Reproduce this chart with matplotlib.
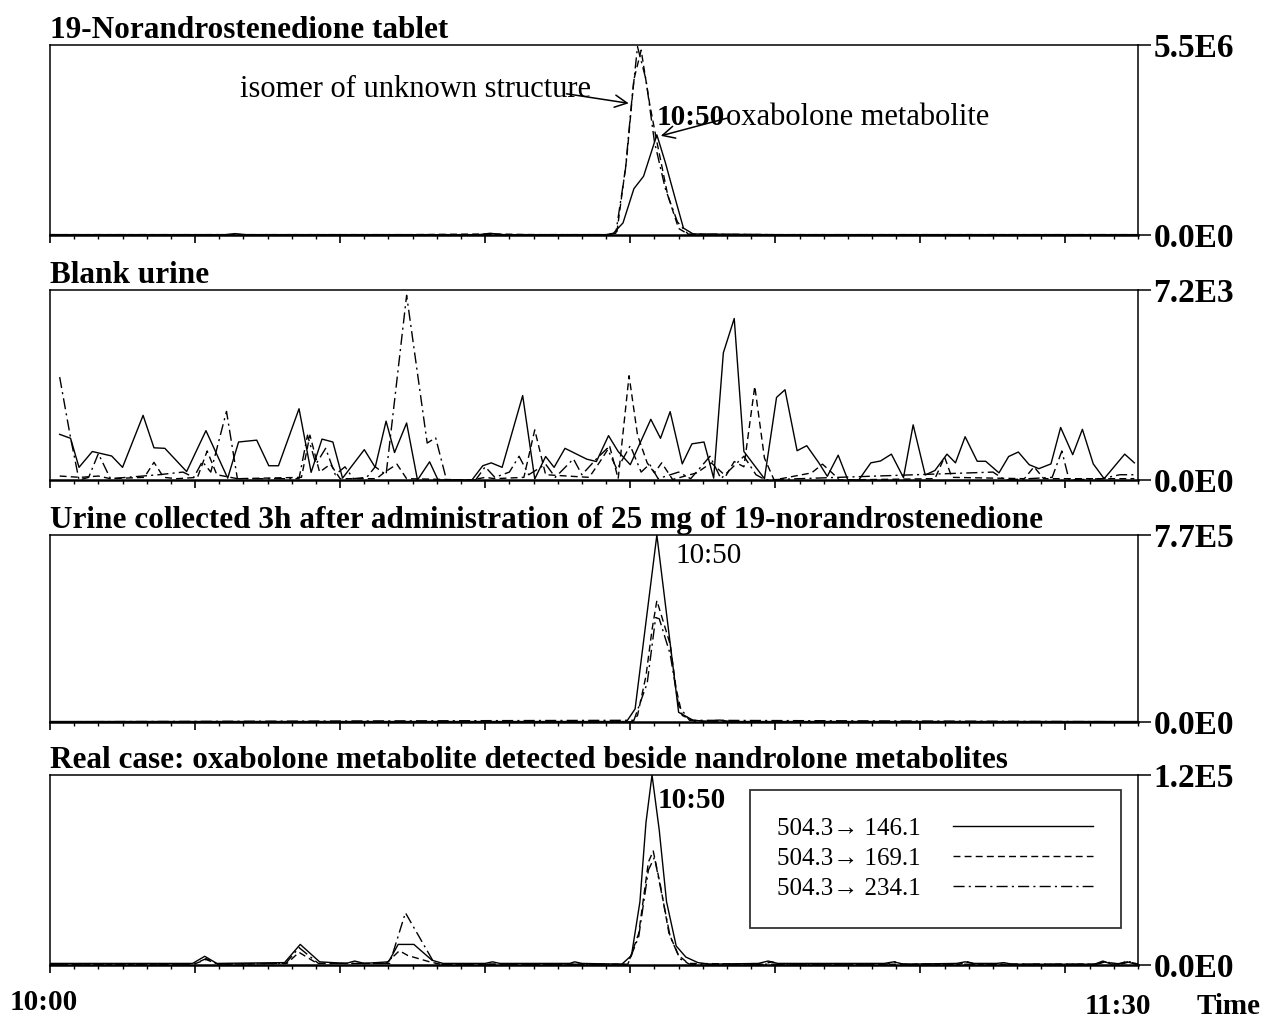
import matplotlib
matplotlib.use("Agg")
import matplotlib.pyplot as plt
from matplotlib.ticker import MultipleLocator

plt.rcParams["font.family"] = ["Liberation Serif", "DejaVu Serif"]

# time axis: minutes after 10:00 (10:00 -> 0, 11:30 -> 90)

# panel 1: 19-norandrostenedione tablet (intensity in 1E6)
tab_solid_t = [0, 10, 14.5, 15.3, 16.2, 25, 35.5, 36.4, 37.5, 46.0, 46.6, 47.4, 48.3, 49.1, 50.2, 50.9, 51.8, 52.4, 53.2, 60, 75, 90]
tab_solid_y = [0.01, 0.01, 0.01, 0.04, 0.01, 0.01, 0.01, 0.05, 0.01, 0.01, 0.05, 0.35, 1.34, 1.7, 2.9, 2.1, 0.95, 0.2, 0.03, 0.01, 0.01, 0.01]
tab_dash_t = [0, 30, 36.4, 40, 46.3, 46.9, 47.7, 48.3, 48.9, 49.6, 50.2, 51.1, 52.0, 52.8, 60, 90]
tab_dash_y = [0.01, 0.01, 0.03, 0.01, 0.01, 0.1, 2.2, 4.5, 5.35, 3.8, 2.7, 1.15, 0.19, 0.02, 0.01, 0.01]
tab_dd_t = [0, 30, 46.2, 46.8, 47.6, 48.1, 48.6, 49.3, 50.0, 50.9, 51.9, 52.8, 60, 90]
tab_dd_y = [0.01, 0.01, 0.01, 0.05, 1.9, 3.8, 5.45, 4.5, 2.7, 1.34, 0.38, 0.02, 0.01, 0.01]

# panel 2: blank urine (intensity in 1E3)
bl_solid_t = [0.8, 1.7, 2.4, 3.5, 5.1, 6.0, 7.7, 8.6, 9.5, 11.3, 12.9, 14.7, 15.6, 17.1, 18.1, 18.9, 20.6, 21.6,
              22.5, 23.4, 24.2, 26.0, 26.9, 27.8, 28.5, 29.5, 30.4, 31.4, 32.1, 34.9, 35.8, 36.5, 37.4, 39.1,
              40.1, 41.0, 41.7, 42.6, 44.4, 45.2, 46.2, 47.0, 48.0, 49.7, 50.5, 51.3, 52.3, 53.1, 54.1, 54.9,
              55.7, 56.6, 57.4, 59.1, 60.1, 60.8, 61.8, 62.6, 63.6, 64.3, 65.2, 66.0, 66.9, 67.9, 68.7, 69.6,
              70.6, 71.4, 72.4, 73.2, 74.2, 74.9, 75.7, 76.7, 77.4, 78.5, 79.3, 80.1, 81.0, 81.8, 82.8, 83.6,
              84.6, 85.4, 86.3, 87.2, 88.9, 89.7]
bl_solid_y = [1.73, 1.58, 0.48, 1.08, 0.91, 0.48, 2.45, 1.22, 1.2, 0.32, 1.87, 0.07, 1.44, 1.51, 0.54, 0.54, 2.7, 0.29,
              1.55, 1.44, 0.07, 1.15, 0.48, 2.23, 1.04, 2.16, 0.0, 0.69, 0.0, 0.0, 0.54, 0.65, 0.48, 3.2,
              0.04, 0.89, 0.48, 1.2, 0.79, 0.7, 1.68, 1.08, 0.58, 2.3, 1.58, 2.59, 0.61, 1.37, 1.44, 0.07,
              4.82, 6.12, 1.08, 0.05, 3.13, 3.42, 1.11, 1.3, 0.65, 0.14, 0.94, 0.0, 0.0, 0.65, 0.72, 0.98,
              0.09, 2.09, 0.19, 0.36, 0.98, 0.65, 1.64, 0.71, 0.71, 0.27, 0.89, 1.06, 0.58, 0.43, 0.61, 1.99,
              0.96, 1.92, 0.61, 0.05, 0.98, 0.65]
bl_dash_t = [0.8, 2.5, 4.0, 5.0, 7.8, 8.6, 9.4, 10.5, 12.2, 13.0, 13.8, 15.5, 20.8, 21.5, 22.3, 23.2, 24.0, 27.0,
             27.7, 28.7, 29.5, 34.9, 36.0, 36.8, 39.2, 40.1, 41.0, 44.6, 45.5, 46.3, 47.0, 47.9, 48.6, 49.4,
             50.0, 50.6, 51.5, 53.5, 54.7, 55.9, 56.6, 57.4, 58.3, 59.1, 59.9, 63.0, 63.9, 64.7, 65.3, 73.2,
             74.0, 74.6, 80.6, 81.4, 82.2, 89.7]
bl_dash_y = [0.15, 0.1, 0.15, 0.05, 0.1, 0.67, 0.1, 0.05, 0.1, 1.1, 0.2, 0.05, 0.1, 1.7, 0.3, 0.6, 0.05, 0.05,
             0.3, 0.6, 0.05, 0.0, 0.1, 0.05, 0.1, 1.9, 0.2, 0.1, 0.7, 1.27, 0.05, 3.95, 1.7, 0.65,
             0.27, 0.65, 0.02, 0.27, 0.65, 0.15, 0.7, 0.5, 3.55, 0.83, 0.0, 0.27, 0.6, 0.27, 0.0, 0.05,
             0.87, 0.1, 0.05, 0.5, 0.05, 0.05]
bl_dd_t = [0.8, 1.7, 2.4, 3.2, 4.0, 5.0, 9.0, 11.0, 11.9, 12.6, 13.3, 14.6, 15.5, 20.6, 21.3, 22.0, 22.8, 23.6,
           24.4, 25.1, 26.2, 26.9, 27.8, 29.5, 31.2, 31.9, 32.8, 35.2, 36.0, 36.8, 38.0, 38.8, 39.6, 41.0,
           41.8, 43.3, 44.0, 45.2, 46.1, 46.9, 48.0, 48.9, 49.6, 50.3, 52.0, 53.0, 54.6, 55.5, 57.4, 58.4,
           59.2, 62.0, 78.0, 79.0, 82.9, 83.7, 84.3, 87.0, 88.5, 89.7]
bl_dd_y = [3.9, 1.6, 0.0, 0.1, 1.0, 0.05, 0.2, 0.3, 0.1, 0.7, 0.3, 2.6, 0.05, 0.05, 1.7, 0.6, 1.2, 0.2,
           0.5, 0.05, 0.1, 0.5, 0.2, 7.0, 1.4, 1.6, 0.0, 0.0, 0.5, 0.1, 0.3, 0.9, 0.2, 0.6,
           0.1, 0.8, 0.2, 0.8, 1.2, 0.4, 1.3, 0.3, 0.6, 0.05, 0.3, 0.05, 0.9, 0.05, 0.9, 0.2,
           0.0, 0.05, 0.3, 0.0, 0.1, 1.1, 0.0, 0.05, 0.2, 0.2]

# panel 3: urine 3h after 25 mg (intensity in 1E5)
ur_solid_t = [0, 20, 40, 47.7, 48.4, 50.2, 52.0, 53.2, 54.5, 55.4, 56.3, 70, 90]
ur_solid_y = [0.02, 0.02, 0.02, 0.02, 0.54, 7.7, 0.4, 0.07, 0.03, 0.08, 0.02, 0.02, 0.02]
ur_dash_t = [0, 48.2, 48.6, 49.3, 49.8, 50.2, 51.3, 51.8, 52.3, 53.4, 90]
ur_dash_y = [0.01, 0.01, 0.27, 1.9, 3.8, 5.0, 3.2, 1.35, 0.27, 0.01, 0.01]
ur_dd_t = [0, 48.3, 49.4, 50.1, 50.4, 51.3, 52.0, 52.9, 90]
ur_dd_y = [0.01, 0.07, 1.6, 4.3, 4.25, 2.8, 0.67, 0.07, 0.01]

# panel 4: real case (intensity in 1E4)
rc_solid_t = [0, 5, 11.8, 12.8, 13.8, 19.4, 20.7, 22.3, 24.5, 25.2, 26.0, 28.0, 28.8, 30.1, 31.6, 32.5, 36.0,
              36.6, 37.2, 43.0, 43.4, 44.0, 47.3, 48.1, 48.8, 49.3, 49.8, 50.4, 51.0, 51.8, 52.6, 53.6, 54.5,
              58.6, 59.4, 60.2, 69.0, 69.8, 70.6, 75.0, 75.7, 76.4, 78.3, 78.9, 79.6, 86.4, 87.1, 87.8, 88.5,
              89.1, 89.8]
rc_solid_y = [0.1, 0.1, 0.1, 0.55, 0.1, 0.15, 1.3, 0.2, 0.1, 0.25, 0.1, 0.2, 1.3, 1.3, 0.3, 0.1, 0.1,
              0.2, 0.1, 0.1, 0.2, 0.1, 0.05, 0.6, 4.0, 9.0, 12.0, 8.5, 4.0, 1.2, 0.5, 0.15, 0.05,
              0.1, 0.25, 0.1, 0.1, 0.2, 0.05, 0.1, 0.2, 0.1, 0.1, 0.15, 0.05, 0.05, 0.25, 0.05, 0.1,
              0.2, 0.05]
rc_dash_t = [0, 11.9, 12.9, 13.9, 19.6, 20.6, 22.1, 27.8, 28.9, 29.6, 31.4, 32.3, 47.8, 48.7, 49.5, 49.9,
             50.5, 51.2, 52.0, 52.8, 59.0, 59.7, 60.4, 75.2, 75.9, 76.6, 86.5, 87.2, 88.6, 89.3, 90]
rc_dash_y = [0.05, 0.05, 0.35, 0.05, 0.1, 0.8, 0.1, 0.1, 0.9, 0.6, 0.2, 0.05, 0.05, 2.0, 6.5, 7.2,
             5.0, 2.0, 0.6, 0.1, 0.05, 0.2, 0.05, 0.05, 0.2, 0.05, 0.05, 0.2, 0.05, 0.2, 0.05]
rc_dd_t = [0, 11.9, 12.9, 13.9, 19.5, 20.6, 22.2, 28.1, 29.4, 31.8, 32.5, 47.8, 48.7, 49.5, 50.0, 50.6,
           51.3, 52.1, 52.9, 69.2, 69.9, 70.5, 86.6, 87.3, 88.4, 89.1, 90]
rc_dd_y = [0.05, 0.05, 0.4, 0.05, 0.1, 1.1, 0.1, 0.1, 3.3, 0.1, 0.05, 0.05, 1.8, 6.0, 6.8, 4.5,
           1.8, 0.4, 0.05, 0.05, 0.2, 0.05, 0.05, 0.2, 0.05, 0.25, 0.05]

titles = ["19-Norandrostenedione tablet",
          "Blank urine",
          "Urine collected 3h after administration of 25 mg of 19-norandrostenedione",
          "Real case: oxabolone metabolite detected beside nandrolone metabolites"]
ymaxes = [5.5, 7.2, 7.7, 12.0]
top_labels = ["5.5E6", "7.2E3", "7.7E5", "1.2E5"]
legend_labels = ["504.3\u2192 146.1", "504.3\u2192 169.1", "504.3\u2192 234.1"]

panels = [
    (tab_solid_t, tab_solid_y, tab_dash_t, tab_dash_y, tab_dd_t, tab_dd_y),
    (bl_solid_t, bl_solid_y, bl_dash_t, bl_dash_y, bl_dd_t, bl_dd_y),
    (ur_solid_t, ur_solid_y, ur_dash_t, ur_dash_y, ur_dd_t, ur_dd_y),
    (rc_solid_t, rc_solid_y, rc_dash_t, rc_dash_y, rc_dd_t, rc_dd_y),
]

W, H = 1262, 1022
fig = plt.figure(figsize=(W / 100, H / 100), dpi=100)

# axes boxes in pixels: (top, bottom)
boxes = [(45, 235), (290, 480), (535, 722), (775, 965)]
x_left, x_right = 50, 1138

dash_style = (0, (5, 3))
dd_style = (0, (8, 3, 1.5, 3))

axes = []
for i, (top, bot) in enumerate(boxes):
    ax = fig.add_axes([x_left / W, 1 - bot / H, (x_right - x_left) / W, (bot - top) / H])
    st, sy, dt, dy, ddt, ddy = panels[i]
    l1, = ax.plot(st, sy, color="black", lw=1.0, ls="-")
    l2, = ax.plot(dt, dy, color="black", lw=1.0, ls=dash_style)
    l3, = ax.plot(ddt, ddy, color="black", lw=1.0, ls=dd_style)
    ax.set_xlim(0, 90)
    ax.set_ylim(0, ymaxes[i])
    for side in ["left", "top", "right"]:
        ax.spines[side].set_linewidth(1.1)
    ax.spines["bottom"].set_linewidth(1.8)
    ax.xaxis.set_major_locator(MultipleLocator(12))
    ax.xaxis.set_minor_locator(MultipleLocator(2))
    ax.tick_params(axis="x", which="major", direction="out", length=6, width=1.2, labelbottom=False)
    ax.tick_params(axis="x", which="minor", direction="out", length=3, width=1.0)
    ax.yaxis.tick_right()
    ax.set_yticks([0, ymaxes[i]])
    ax.set_yticklabels(["0.0E0", top_labels[i]])
    ax.tick_params(axis="y", direction="out", length=9, width=1.1, pad=2, labelsize=24)
    for lab in ax.get_yticklabels():
        lab.set_fontweight("bold")
    ax.annotate(titles[i], xy=(0, 1), xycoords="axes fraction", xytext=(0, 5),
                textcoords="offset points", va="baseline", ha="left",
                fontsize=22.5, fontweight="bold")
    axes.append(ax)

# annotations, panel 1
ax = axes[0]
ax.text(15.7, 4.22, "isomer of unknown structure", fontsize=22, va="center", ha="left")
ax.annotate("", xy=(48.1, 3.8), xytext=(42.5, 4.1),
            arrowprops=dict(arrowstyle="->", lw=1.1, color="black", mutation_scale=22))
ax.text(50.2, 3.39, "10:50", fontsize=21, fontweight="bold", va="center", ha="left")
ax.text(55.9, 3.39, "oxabolone metabolite", fontsize=22, va="center", ha="left")
ax.annotate("", xy=(50.3, 2.85), xytext=(56.2, 3.4),
            arrowprops=dict(arrowstyle="->", lw=1.1, color="black", mutation_scale=22))

# panel 3 and 4 retention time labels
axes[2].text(51.7, 6.84, "10:50", fontsize=21, va="center", ha="left")
axes[3].text(50.3, 10.4, "10:50", fontsize=21, fontweight="bold", va="center", ha="left")

# legend in panel 4
leg = axes[3].legend([l1, l2, l3], legend_labels, loc="upper left", bbox_to_anchor=(0.643, 0.921),
                     markerfirst=False, frameon=True, fancybox=False, edgecolor="black",
                     fontsize=18, handlelength=5.6, handletextpad=1.3, borderpad=1.1,
                     labelspacing=0.3, borderaxespad=0)
leg.get_frame().set_linewidth(1.3)

# time labels
fig.text(10 / W, 1 - 1002 / H, "10:00", fontsize=21, fontweight="bold", va="center", ha="left")
fig.text(1085 / W, 1 - 1006 / H, "11:30", fontsize=21, fontweight="bold", va="center", ha="left")
fig.text(1197 / W, 1 - 1006 / H, "Time", fontsize=21, fontweight="bold", va="center", ha="left")

fig.savefig("out.png", dpi=100)
